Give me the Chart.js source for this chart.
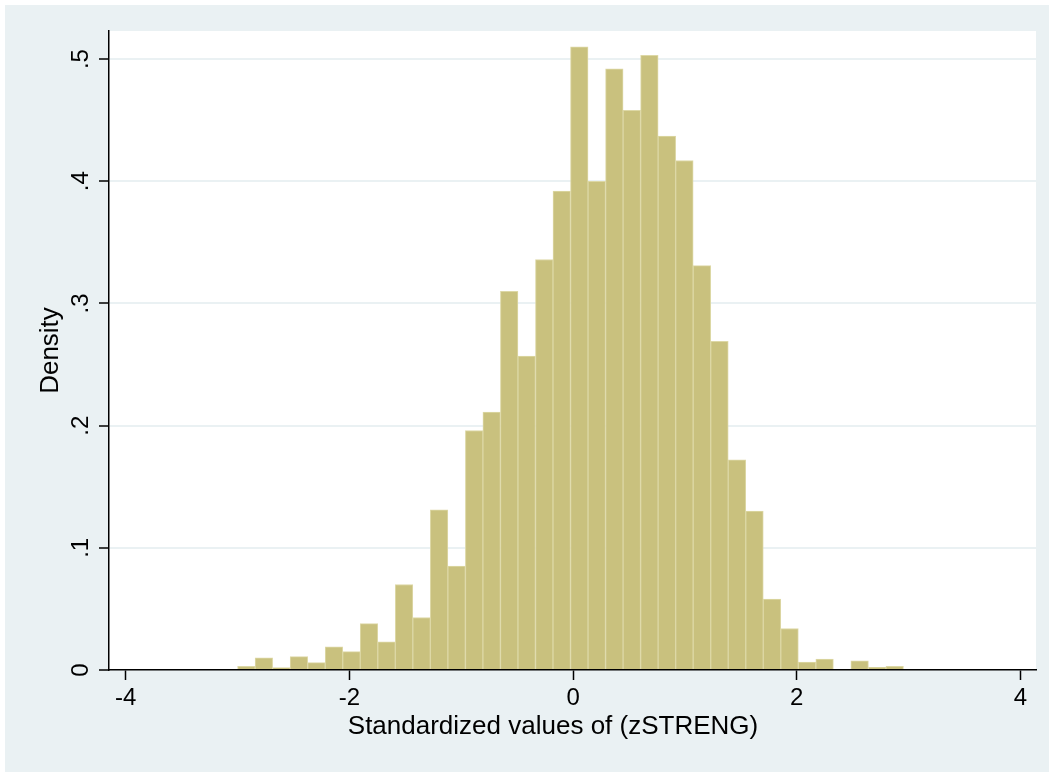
<!DOCTYPE html>
<html>
<head>
<meta charset="utf-8">
<script src="https://cdn.jsdelivr.net/npm/chart.js@4/dist/chart.umd.min.js"></script>
<style>
  html, body { margin: 0; padding: 0; background: #fff; }
  #wrap { width: 1049px; height: 772px; position: relative; }
</style>
</head>
<body>
<div id="wrap"><canvas id="histChart"></canvas></div>
<script>
// Histogram bins
const binStart = -3.0;
const binWidth = 0.1567;
const densities = [
    0.003, 0.010, 0.002, 0.011, 0.006, 0.019, 0.015, 0.038, 0.023, 0.070,
    0.043, 0.131, 0.085, 0.196, 0.211, 0.310, 0.257, 0.336, 0.392, 0.510,
    0.400, 0.492, 0.458, 0.503, 0.437, 0.417, 0.331, 0.269, 0.172, 0.130,
    0.058, 0.034, 0.0065, 0.009, 0, 0.0076, 0.0022, 0.003
];
const xTicks = [-4, -2, 0, 2, 4];
const yTicks = [0, 0.1, 0.2, 0.3, 0.4, 0.5];
const xTitle = 'Standardized values of (zSTRENG)';
const yTitle = 'Density';

const FONT = "'Liberation Sans', Arial, Helvetica, sans-serif";

// bar centres from the bin edges
const points = densities.map((d, i) => ({ x: binStart + (i + 0.5) * binWidth, y: d }));

const yLabel = (v) => v === 0 ? '0' : v.toFixed(1).replace(/^0/, '');

// Background: white rim, bluish graph region, white plot region
const bgPlugin = {
    id: 'stataBg',
    beforeDraw(chart) {
        const { ctx, chartArea, width, height } = chart;
        ctx.save();
        ctx.fillStyle = '#ffffff';
        ctx.fillRect(0, 0, width, height);
        ctx.fillStyle = 'rgb(234,241,243)';
        ctx.fillRect(5, 5, width - 5, height - 5);
        ctx.fillStyle = '#ffffff';
        ctx.fillRect(chartArea.left, chartArea.top, chartArea.right - chartArea.left, chartArea.bottom - chartArea.top);
        ctx.restore();
    }
};

// Rotated y tick labels and the x title (Stata style)
const labelPlugin = {
    id: 'stataLabels',
    afterDraw(chart) {
        const { ctx } = chart;
        const y = chart.scales.y;
        ctx.save();
        ctx.fillStyle = '#000';
        ctx.font = '24px ' + FONT;
        ctx.textAlign = 'center';
        ctx.textBaseline = 'alphabetic';
        yTicks.forEach(v => {
            const py = y.getPixelForValue(v);
            ctx.save();
            ctx.translate(88, py);
            ctx.rotate(-Math.PI / 2);
            ctx.fillText(yLabel(v), 0, 0);
            ctx.restore();
        });
        ctx.font = '26px ' + FONT;
        ctx.textBaseline = 'middle';
        ctx.fillText(xTitle, 553, 727);
        ctx.restore();
    }
};

new Chart(document.getElementById('histChart'), {
    type: 'bar',
    data: {
        datasets: [{
            data: points,
            backgroundColor: 'rgb(201,193,126)',
            borderColor: 'rgb(221,216,166)',
            borderWidth: 1,
            barPercentage: 1,
            categoryPercentage: 1
        }]
    },
    options: {
        responsive: true,
        maintainAspectRatio: false,
        animation: false,
        layout: { padding: { left: 0, top: 31, right: 13, bottom: 0 } },
        plugins: {
            legend: { display: false },
            tooltip: { enabled: false }
        },
        scales: {
            x: {
                type: 'linear',
                offset: false,
                min: -4.15,
                max: 4.14,
                afterBuildTicks: (axis) => { axis.ticks = xTicks.map(v => ({ value: v })); },
                afterFit: (axis) => { axis.height = 102; },
                ticks: {
                    color: '#000',
                    font: { family: FONT, size: 24 },
                    padding: 4,
                    maxRotation: 0
                },
                grid: {
                    offset: false,
                    drawOnChartArea: false,
                    drawTicks: true,
                    tickLength: 10,
                    tickColor: '#000',
                    tickWidth: 1.5
                },
                border: { display: true, color: '#000', width: 1.5 }
            },
            y: {
                min: 0,
                max: 0.523,
                afterBuildTicks: (axis) => { axis.ticks = yTicks.map(v => ({ value: v })); },
                afterFit: (axis) => { axis.width = 109; },
                ticks: {
                    color: 'rgba(0,0,0,0)',
                    font: { family: FONT, size: 24 },
                    callback: yLabel
                },
                grid: {
                    color: (c) => c.tick && c.tick.value === 0 ? 'rgba(0,0,0,0)' : 'rgb(234,241,243)',
                    lineWidth: 2,
                    tickLength: 10,
                    tickColor: '#000',
                    tickWidth: 1.5
                },
                border: { display: true, color: '#000', width: 1.5 },
                title: {
                    display: true,
                    text: yTitle,
                    color: '#000',
                    font: { family: FONT, size: 26 },
                    padding: { top: 35, bottom: 0 }
                }
            }
        }
    },
    plugins: [bgPlugin, labelPlugin]
});
</script>
</body>
</html>
